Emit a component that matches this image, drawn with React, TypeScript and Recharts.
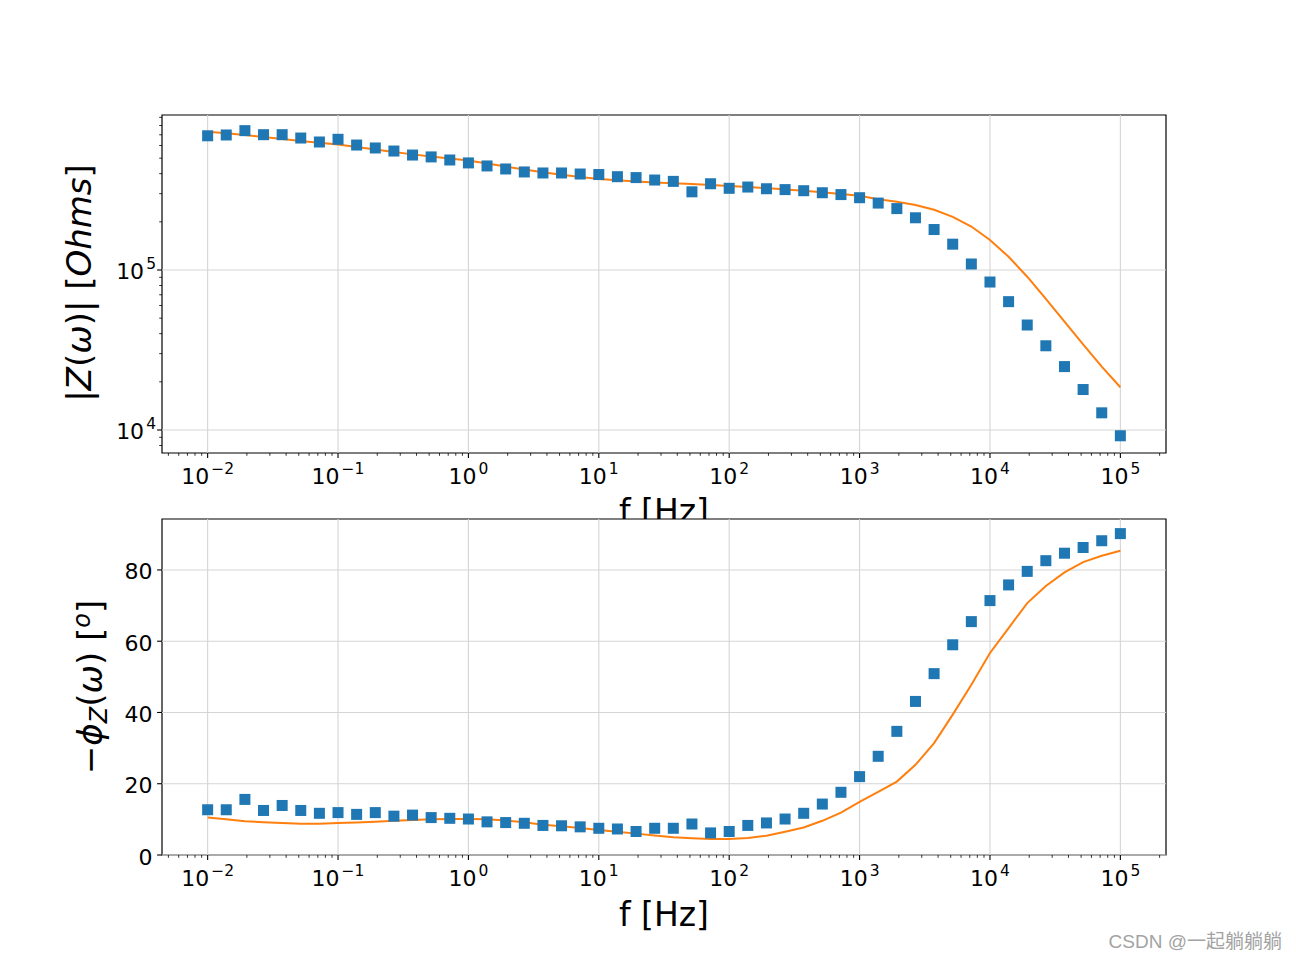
import React from "react";
import {
  ComposedChart,
  Scatter,
  Line,
  XAxis,
  YAxis,
  ReferenceLine,
  ReferenceArea,
} from "recharts";

const FONT = '"DejaVu Sans", sans-serif';
const BLUE = "#1f77b4";
const ORANGE = "#ff7f0e";
const GRID = "#d5d5d5";

// frequencies, 7 per decade
const FREQ = [
  0.01, 0.01389, 0.01931, 0.02683, 0.03728, 0.05179, 0.07197,
  0.1, 0.1389, 0.1931, 0.2683, 0.3728, 0.5179, 0.7197,
  1, 1.389, 1.931, 2.683, 3.728, 5.179, 7.197,
  10, 13.89, 19.31, 26.83, 37.28, 51.79, 71.97,
  100, 138.9, 193.1, 268.3, 372.8, 517.9, 719.7,
  1000, 1389, 1931, 2683, 3728, 5179, 7197,
  10000, 13895, 19307, 26827, 37276, 51795, 71969,
  100000,
];

// |Z| measured (squares) and fitted (line), Ohms
const Z_MEAS = [
  690e3, 698e3, 743e3, 701e3, 701e3, 668e3, 631e3,
  656e3, 604e3, 579e3, 554e3, 523e3, 509e3, 487e3,
  467e3, 447e3, 428e3, 410e3, 404e3, 404e3, 398e3,
  395e3, 383e3, 378e3, 365e3, 358e3, 308e3, 346e3,
  324e3, 330e3, 322e3, 318e3, 313e3, 304e3, 296e3,
  283e3, 262e3, 242e3, 212e3, 179e3, 145e3, 109e3,
  84.1e3, 63.4e3, 45.3e3, 33.6e3, 24.9e3, 17.9e3, 12.8e3,
  9.2e3,
];
const Z_FIT = [
  731e3, 715e3, 698e3, 678e3, 659e3, 640e3, 625e3,
  609e3, 587e3, 566e3, 546e3, 528e3, 512e3, 497e3,
  484e3, 463e3, 443e3, 425e3, 408e3, 394e3, 381e3,
  370e3, 364e3, 357e3, 352e3, 348e3, 345e3, 340e3,
  335e3, 330e3, 325e3, 319e3, 313e3, 306e3, 299e3,
  291e3, 277e3, 267e3, 255e3, 238e3, 215e3, 187e3,
  154e3, 121e3, 90.8e3, 65.9e3, 47.5e3, 34.3e3, 24.9e3,
  18.5e3,
];

// -phase, degrees
const PHASE_MEAS = [
  12.7, 12.7, 15.6, 12.5, 13.9, 12.5, 11.7,
  11.9, 11.4, 11.9, 10.9, 11.2, 10.5, 10.3,
  10.1, 9.3, 9.1, 8.9, 8.3, 8.2, 7.9,
  7.5, 7.3, 6.6, 7.5, 7.5, 8.7, 6.2,
  6.6, 8.3, 9.0, 10.1, 11.7, 14.3, 17.6,
  22.0, 27.7, 34.7, 43.1, 50.9, 59.0, 65.5,
  71.4, 75.8, 79.6, 82.6, 84.7, 86.3, 88.2,
  90.2,
];
const PHASE_FIT = [
  10.5, 10.0, 9.5, 9.2, 9.0, 8.8, 8.8,
  9.0, 9.1, 9.3, 9.6, 9.8, 10.0, 10.1,
  10.1, 10.0, 9.7, 9.2, 8.5, 8.1, 7.6,
  7.0, 6.5, 6.0, 5.5, 5.0, 4.7, 4.5,
  4.5, 4.8, 5.4, 6.5, 7.7, 9.6, 11.9,
  14.9, 17.7, 20.6, 25.3, 31.4, 39.4, 47.8,
  56.7, 63.7, 70.7, 75.5, 79.3, 82.2, 84.0,
  85.4,
];

const X_MAJOR = [0.01, 0.1, 1, 10, 100, 1000, 10000, 100000];
const Z_MAJOR = [10000, 100000];
const PHASE_TICKS = [0, 20, 40, 60, 80];
const MINOR_STEPS = [2, 3, 4, 5, 6, 7, 8, 9];

const X_DOMAIN: [number, number] = [10 ** -2.35, 10 ** 5.35];
const Z_DOMAIN: [number, number] = [7180, 930600];
const PHASE_DOMAIN: [number, number] = [0, 94.3];

const inRange = (d: [number, number]) => (v: number) => v >= d[0] && v <= d[1];
const X_TICKS = [0.001, ...X_MAJOR]
  .flatMap((d) => MINOR_STEPS.map((m) => m * d))
  .concat(X_MAJOR)
  .filter(inRange(X_DOMAIN))
  .sort((a, b) => a - b);
const Z_TICKS = [1000, ...Z_MAJOR]
  .flatMap((d) => MINOR_STEPS.map((m) => m * d))
  .concat(Z_MAJOR)
  .filter(inRange(Z_DOMAIN))
  .sort((a, b) => a - b);

const magRows = FREQ.map((f, i) => ({ f, zm: Z_MEAS[i], zf: Z_FIT[i] }));
const phaseRows = FREQ.map((f, i) => ({ f, pm: PHASE_MEAS[i], pf: PHASE_FIT[i] }));

const expo = (v: number) => {
  const e = Math.round(Math.log10(v));
  return e < 0 ? `\u2212${-e}` : `${e}`;
};

function LogXTick({ x, y, payload }: any) {
  const v = payload.value;
  const major = X_MAJOR.includes(v);
  return (
    <g>
      <line x1={x} x2={x} y1={y} y2={y + (major ? 4.9 : 2.8)} stroke="#000" strokeWidth={major ? 1.1 : 0.8} />
      {major && (
        <text x={x} y={y + 31} textAnchor="middle" fontSize={22} fontFamily={FONT} fill="#000">
          <tspan>10</tspan>
          <tspan dx={2} dy={-10.5} fontSize={15.5}>{expo(v)}</tspan>
        </text>
      )}
    </g>
  );
}

function LogYTick({ x, y, payload }: any) {
  const v = payload.value;
  const major = Z_MAJOR.includes(v);
  return (
    <g>
      <line x1={x - (major ? 4.9 : 2.8)} x2={x} y1={y} y2={y} stroke="#000" strokeWidth={major ? 1.1 : 0.8} />
      {major && (
        <text x={x - 6} y={y + 9} textAnchor="end" fontSize={22} fontFamily={FONT} fill="#000">
          <tspan>10</tspan>
          <tspan dx={2} dy={-10} fontSize={15.5}>{expo(v)}</tspan>
        </text>
      )}
    </g>
  );
}

function PhaseTick({ x, y, payload }: any) {
  return (
    <g>
      <line x1={x - 4.9} x2={x} y1={y} y2={y} stroke="#000" strokeWidth={1.1} />
      <text x={x - 9.5} y={y + 9.5} textAnchor="end" fontSize={22} fontFamily={FONT} fill="#000">
        {payload.value}
      </text>
    </g>
  );
}

const Square = (p: any) => (
  <rect x={p.cx - 5.5} y={p.cy - 5.5} width={11} height={11} fill={BLUE} />
);

const layer: React.CSSProperties = { position: "absolute", left: 0, top: 0 };

export default function App() {
  return (
    <div style={{ ...layer, width: 1296, height: 961, background: "#fff", fontFamily: FONT }}>
      <div style={layer}>
        <ComposedChart width={1296} height={560} data={magRows} margin={{ top: 115, right: 130, bottom: 47, left: 0 }}>
          <XAxis
            dataKey="f"
            type="number"
            scale="log"
            domain={X_DOMAIN}
            allowDataOverflow
            ticks={X_TICKS}
            interval={0}
            tick={(p: any) => <LogXTick {...p} />}
            tickLine={false}
            axisLine={false}
            tickSize={0}
            tickMargin={0}
            height={60}
          />
          <YAxis
            type="number"
            scale="log"
            domain={Z_DOMAIN}
            allowDataOverflow
            ticks={Z_TICKS}
            interval={0}
            tick={(p: any) => <LogYTick {...p} />}
            tickLine={false}
            axisLine={false}
            tickSize={0}
            tickMargin={0}
            width={162}
          />
          {X_MAJOR.map((v) => (
            <ReferenceLine key={`gx${v}`} x={v} stroke={GRID} strokeWidth={1.1} />
          ))}
          {Z_MAJOR.map((v) => (
            <ReferenceLine key={`gy${v}`} y={v} stroke={GRID} strokeWidth={1.1} />
          ))}
          <Scatter dataKey="zm" fill={BLUE} shape={Square} isAnimationActive={false} />
          <Line type="linear" dataKey="zf" stroke={ORANGE} strokeWidth={2} dot={false} isAnimationActive={false} />
          <ReferenceArea
            x1={X_DOMAIN[0]}
            x2={X_DOMAIN[1]}
            y1={Z_DOMAIN[0]}
            y2={Z_DOMAIN[1]}
            fill="none"
            stroke="#000"
            strokeOpacity={1}
            strokeWidth={1.2}
            ifOverflow="visible"
          />
        </ComposedChart>
      </div>

      {/* top panel titles, clipped where the lower axes begin */}
      <svg width={1296} height={519} style={{ ...layer, overflow: "hidden" }} fontFamily={FONT}>
        <text x={664} y={523} textAnchor="middle" fontSize={33} fill="#000">f [Hz]</text>
        <text x={91} y={283} textAnchor="middle" fontSize={34} fill="#000" transform="rotate(-90, 91, 283)">
          <tspan>|</tspan>
          <tspan fontStyle="italic">Z</tspan>
          <tspan>(</tspan>
          <tspan fontStyle="italic">ω</tspan>
          <tspan>)| [</tspan>
          <tspan fontStyle="italic">Ohms</tspan>
          <tspan>]</tspan>
        </text>
      </svg>

      <div style={layer}>
        <ComposedChart width={1296} height={961} data={phaseRows} margin={{ top: 519, right: 130, bottom: 26, left: 0 }}>
          <XAxis
            dataKey="f"
            type="number"
            scale="log"
            domain={X_DOMAIN}
            allowDataOverflow
            ticks={X_TICKS}
            interval={0}
            tick={(p: any) => <LogXTick {...p} />}
            tickLine={false}
            axisLine={false}
            tickSize={0}
            tickMargin={0}
            height={80}
          />
          <YAxis
            type="number"
            domain={PHASE_DOMAIN}
            allowDataOverflow
            ticks={PHASE_TICKS}
            interval={0}
            tick={(p: any) => <PhaseTick {...p} />}
            tickLine={false}
            axisLine={false}
            tickSize={0}
            tickMargin={0}
            width={162}
          />
          {X_MAJOR.map((v) => (
            <ReferenceLine key={`px${v}`} x={v} stroke={GRID} strokeWidth={1.1} />
          ))}
          {PHASE_TICKS.map((v) => (
            <ReferenceLine key={`py${v}`} y={v} stroke={GRID} strokeWidth={1.1} />
          ))}
          <Scatter dataKey="pm" fill={BLUE} shape={Square} isAnimationActive={false} />
          <Line type="linear" dataKey="pf" stroke={ORANGE} strokeWidth={2} dot={false} isAnimationActive={false} />
          <ReferenceArea
            x1={X_DOMAIN[0]}
            x2={X_DOMAIN[1]}
            y1={PHASE_DOMAIN[0]}
            y2={PHASE_DOMAIN[1]}
            fill="none"
            stroke="#000"
            strokeOpacity={1}
            strokeWidth={1.2}
            ifOverflow="visible"
          />
        </ComposedChart>
      </div>

      <svg width={1296} height={961} style={{ ...layer, pointerEvents: "none" }} fontFamily={FONT}>
        <text x={664} y={926} textAnchor="middle" fontSize={33} fill="#000">f [Hz]</text>
        <text x={102} y={687} textAnchor="middle" fontSize={34} fill="#000" transform="rotate(-90, 102, 687)">
          <tspan>−</tspan>
          <tspan fontStyle="italic">ϕ</tspan>
          <tspan fontStyle="italic" fontSize={24} dy={5}>Z</tspan>
          <tspan dy={-5}>(</tspan>
          <tspan fontStyle="italic">ω</tspan>
          <tspan>) [</tspan>
          <tspan fontStyle="italic" fontSize={24} dy={-12}>o</tspan>
          <tspan dy={12}>]</tspan>
        </text>
        <text
          x={1282}
          y={948}
          textAnchor="end"
          fontSize={19}
          fill="#a3a3a3"
          fontFamily='"Liberation Sans", "Noto Sans CJK SC", sans-serif'
        >
          CSDN @一起躺躺躺
        </text>
      </svg>
    </div>
  );
}
